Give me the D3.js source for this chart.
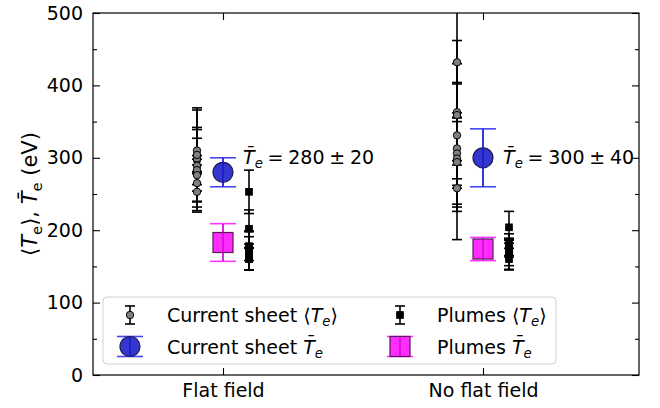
<!DOCTYPE html>
<html><head><meta charset="utf-8">
<script src="https://cdn.jsdelivr.net/npm/d3@7"></script>
<style>
body{margin:0;background:#fff}
svg{display:block}
text{font-family:"DejaVu Sans",sans-serif;fill:#000}
</style>
</head><body>
<svg id="chart" width="660" height="408"></svg>
<script>
// ---- data -------------------------------------------------------------
const categories = ["Flat field", "No flat field"];
const yTicks = [0, 100, 200, 300, 400, 500];
const yMinorTicks = [50, 150, 250, 350, 450];

// individual current-sheet estimates <Te> (eV) and their uncertainties
const sheetFlatValues   = [297, 299, 289, 310, 304, 283, 276, 265, 253];
const sheetFlatErrors   = [72, 67, 50, 32, 23, 20, 22, 25, 26];
const sheetNoFlatValues = [432, 363, 359, 331, 313, 306, 299, 294, 258];
const sheetNoFlatErrors = [30, 67, 172, 73, 42, 44, 63, 62, 32];

// individual plume estimates <Te> (eV) and their uncertainties
const plumeFlatValues   = [253, 202, 178, 172, 168, 163, 160];
const plumeFlatErrors   = [30, 26, 20, 27, 23, 18, 15];
const plumeNoFlatValues = [204, 180, 175, 170, 166, 160];
const plumeNoFlatErrors = [22, 15, 12, 19, 20, 15];

// averaged temperatures per case
const sheetMean    = [280, 300];
const sheetMeanErr = [20, 40];
const plumeMean    = [183, 174];
const plumeMeanErr = [26, 16];

// ---- layout -----------------------------------------------------------
const svg = d3.select("#chart");
const M = {left: 93, right: 639, top: 13, bottom: 375};
const FS = 19;

const x = d3.scaleLinear().domain([-0.5, 1.6]).range([M.left, M.right]);
const y = d3.scaleLinear().domain([0, 500]).range([M.bottom, M.top]);

svg.append("defs").append("clipPath").attr("id", "plotClip")
  .append("rect").attr("x", M.left).attr("y", M.top)
  .attr("width", M.right - M.left).attr("height", M.bottom - M.top);

const plot = svg.append("g").attr("clip-path", "url(#plotClip)");

// rich text with italic / subscript runs
function mathText(sel, runs, size) {
  runs.forEach(r => {
    const t = sel.append("tspan").text(r.t);
    if (r.it) t.attr("font-style", "italic");
    if (r.sub) {
      t.attr("font-size", size * 0.7).attr("dy", size * 0.22);
    } else if (r.back) {
      t.attr("dy", -size * 0.22);
    }
  });
  return sel;
}

// errorbar series: vertical bars, caps, markers
function errorSeries(g, xs, vals, errs, opt) {
  const data = vals.map((v, i) => ({x: xs, v, e: errs[i]}));
  g.selectAll(null).data(data).enter().append("line")
    .attr("x1", d => x(d.x)).attr("x2", d => x(d.x))
    .attr("y1", d => y(d.v + d.e)).attr("y2", d => y(d.v - d.e))
    .attr("stroke", opt.bar).attr("stroke-width", opt.bw);
  [1, -1].forEach(s => {
    g.selectAll(null).data(data).enter().append("line")
      .attr("x1", d => x(d.x) - opt.cap).attr("x2", d => x(d.x) + opt.cap)
      .attr("y1", d => y(d.v + s * d.e)).attr("y2", d => y(d.v + s * d.e))
      .attr("stroke", opt.bar).attr("stroke-width", opt.bw);
  });
  const m = g.selectAll(null).data(data).enter();
  if (opt.shape === "circle") {
    m.append("circle").attr("cx", d => x(d.x)).attr("cy", d => y(d.v))
      .attr("r", opt.size).attr("fill", opt.fill)
      .attr("stroke", opt.edge).attr("stroke-width", opt.ew);
  } else {
    m.append("rect").attr("x", d => x(d.x) - opt.size).attr("y", d => y(d.v) - opt.size)
      .attr("width", opt.size * 2).attr("height", opt.size * 2)
      .attr("fill", opt.fill).attr("stroke", opt.edge).attr("stroke-width", opt.ew);
  }
  if (opt.overline) {
    g.selectAll(null).data(data).enter().append("line")
      .attr("x1", d => x(d.x)).attr("x2", d => x(d.x))
      .attr("y1", d => y(d.v + d.e)).attr("y2", d => y(d.v - d.e))
      .attr("stroke", opt.overline).attr("stroke-width", opt.bw);
  }
}

const sheetStyle = {bar: "#000", bw: 1.6, cap: 5, shape: "circle", size: 3.7,
  fill: "#808080", edge: "#000", ew: 1};
const plumeStyle = {bar: "#000", bw: 1.6, cap: 5, shape: "rect", size: 3.3,
  fill: "#000", edge: "#000", ew: 1};
const sheetMeanStyle = {bar: "#4545f5", bw: 1.6, cap: 13, shape: "circle", size: 10,
  fill: "#3535d0", edge: "#1b1b55", ew: 1.2, overline: "rgba(20,20,200,0.75)"};
const plumeMeanStyle = {bar: "#ff33ff", bw: 1.6, cap: 13, shape: "rect", size: 10,
  fill: "#ff2cff", edge: "#5a1a5a", ew: 1.2, overline: "rgba(190,0,190,0.7)"};

const offset = 0.1;
errorSeries(plot, 0 - offset, sheetFlatValues, sheetFlatErrors, sheetStyle);
errorSeries(plot, 1 - offset, sheetNoFlatValues, sheetNoFlatErrors, sheetStyle);
errorSeries(plot, 0 + offset, plumeFlatValues, plumeFlatErrors, plumeStyle);
errorSeries(plot, 1 + offset, plumeNoFlatValues, plumeNoFlatErrors, plumeStyle);
categories.forEach((c, i) => {
  errorSeries(plot, i, [sheetMean[i]], [sheetMeanErr[i]], sheetMeanStyle);
  errorSeries(plot, i, [plumeMean[i]], [plumeMeanErr[i]], plumeMeanStyle);
});

// mean annotations (math-style spacing around the operators)
const sp = "\u2005";
categories.forEach((c, i) => {
  const t = svg.append("text").attr("x", x(i + 0.077)).attr("y", y(300) + 6.5)
    .attr("font-size", FS);
  mathText(t, [{t: "T\u0304", it: true}, {t: "e", it: true, sub: true},
    {t: sp + "=" + sp + sheetMean[i] + sp + "\u00b1" + sp + sheetMeanErr[i], back: true}], FS);
});

// ---- axes ---------------------------------------------------------------
const axisStyle = g => {
  g.select(".domain").remove();
  g.selectAll(".tick line").attr("stroke", "#000").attr("stroke-width", 1.1);
  g.selectAll("text").attr("font-size", FS).attr("font-family", "DejaVu Sans").attr("fill", "#000");
};

svg.append("g").attr("transform", `translate(${M.left},0)`)
  .call(d3.axisLeft(y).tickValues(yTicks).tickSize(-7).tickPadding(10).tickFormat(d3.format("d")))
  .call(axisStyle);
svg.append("g").attr("transform", `translate(${M.left},0)`)
  .call(d3.axisLeft(y).tickValues(yMinorTicks).tickSize(-4).tickFormat(""))
  .call(axisStyle);
svg.append("g").attr("transform", `translate(${M.right},0)`)
  .call(d3.axisRight(y).tickValues(yTicks).tickSize(-7).tickFormat(""))
  .call(axisStyle);
svg.append("g").attr("transform", `translate(${M.right},0)`)
  .call(d3.axisRight(y).tickValues(yMinorTicks).tickSize(-4).tickFormat(""))
  .call(axisStyle);
svg.append("g").attr("transform", `translate(0,${M.bottom})`)
  .call(d3.axisBottom(x).tickValues([0, 1]).tickSize(-7).tickPadding(8.5)
    .tickFormat(i => categories[i]))
  .call(axisStyle);
svg.append("g").attr("transform", `translate(0,${M.top})`)
  .call(d3.axisTop(x).tickValues([0, 1]).tickSize(-7).tickFormat(""))
  .call(axisStyle);

svg.append("rect").attr("x", M.left).attr("y", M.top)
  .attr("width", M.right - M.left).attr("height", M.bottom - M.top)
  .attr("fill", "none").attr("stroke", "#000").attr("stroke-width", 1.2);

// y label
const yl = svg.append("text")
  .attr("transform", `translate(37,${(M.top + M.bottom) / 2}) rotate(-90)`)
  .attr("text-anchor", "middle").attr("font-size", 21);
mathText(yl, [{t: "\u27e8"}, {t: "T", it: true}, {t: "e", sub: true},
  {t: "\u27e9, ", back: true}, {t: "T\u0304", it: true}, {t: "e", sub: true},
  {t: " (eV)", back: true}], 21);

// ---- legend -------------------------------------------------------------
const lg = svg.append("g");
lg.append("rect").attr("x", 103).attr("y", 297).attr("width", 453).attr("height", 67)
  .attr("rx", 4).attr("fill", "rgba(255,255,255,0.8)").attr("stroke", "#d0d0d0");

function legendHandle(cx, cy, opt, half) {
  const g = lg.append("g");
  g.append("line").attr("x1", cx).attr("x2", cx).attr("y1", cy - half).attr("y2", cy + half)
    .attr("stroke", opt.bar).attr("stroke-width", opt.bw);
  [-1, 1].forEach(s => g.append("line").attr("x1", cx - opt.cap).attr("x2", cx + opt.cap)
    .attr("y1", cy + s * half).attr("y2", cy + s * half)
    .attr("stroke", opt.bar).attr("stroke-width", opt.bw));
  if (opt.shape === "circle") {
    g.append("circle").attr("cx", cx).attr("cy", cy).attr("r", opt.size)
      .attr("fill", opt.fill).attr("stroke", opt.edge).attr("stroke-width", opt.ew);
  } else {
    g.append("rect").attr("x", cx - opt.size).attr("y", cy - opt.size)
      .attr("width", opt.size * 2).attr("height", opt.size * 2)
      .attr("fill", opt.fill).attr("stroke", opt.edge).attr("stroke-width", opt.ew);
  }
  if (opt.overline) {
    g.append("line").attr("x1", cx).attr("x2", cx).attr("y1", cy - half).attr("y2", cy + half)
      .attr("stroke", opt.overline).attr("stroke-width", opt.bw);
  }
}

const legendItems = [
  {style: sheetStyle, cx: 130, cy: 315, half: 9, tx: 167, label: "Current sheet ", kind: "avg"},
  {style: sheetMeanStyle, cx: 130, cy: 346.5, half: 10, tx: 167, label: "Current sheet ", kind: "bar"},
  {style: plumeStyle, cx: 400, cy: 315, half: 9, tx: 437, label: "Plumes ", kind: "avg"},
  {style: plumeMeanStyle, cx: 400, cy: 346.5, half: 10, tx: 437, label: "Plumes ", kind: "bar"}
];
legendItems.forEach(it => {
  legendHandle(it.cx, it.cy, it.style, it.half);
  const t = lg.append("text").attr("x", it.tx).attr("y", it.cy + 7).attr("font-size", FS);
  if (it.kind === "avg") {
    mathText(t, [{t: it.label + "\u27e8"}, {t: "T", it: true}, {t: "e", it: true, sub: true},
      {t: "\u27e9", back: true}], FS);
  } else {
    mathText(t, [{t: it.label}, {t: "T\u0304", it: true}, {t: "e", it: true, sub: true}], FS);
  }
});
</script>
</body></html>
